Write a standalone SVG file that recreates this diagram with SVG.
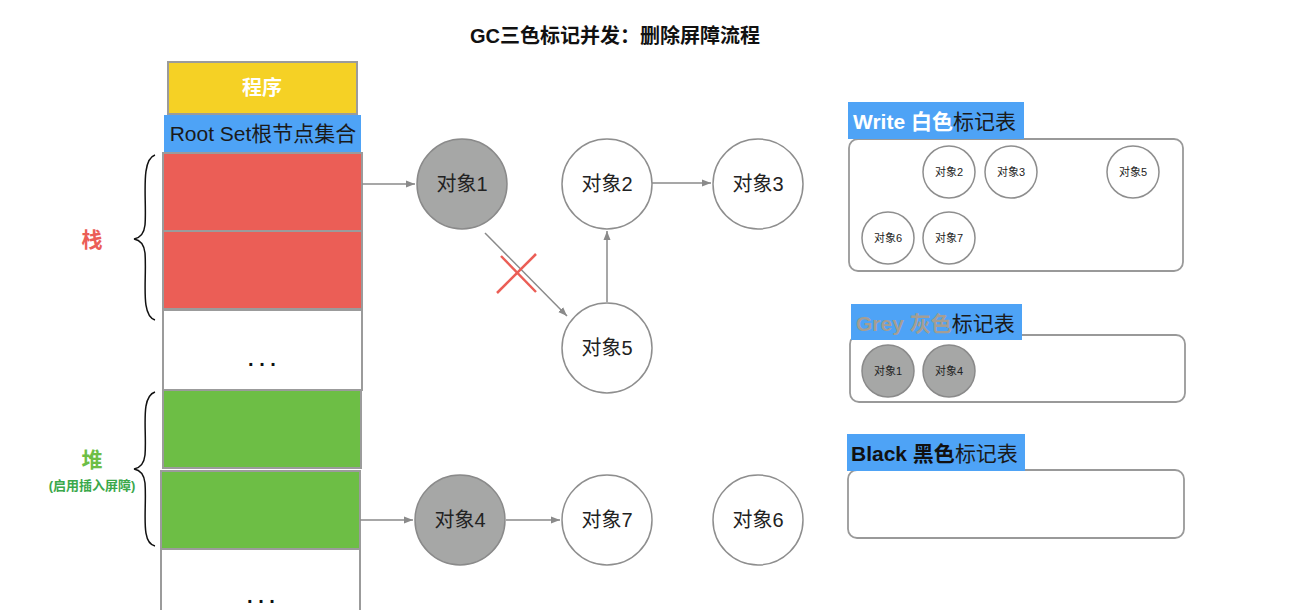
<svg xmlns="http://www.w3.org/2000/svg" width="1295" height="610" viewBox="0 0 1295 610">
<defs>
<marker id="ah" markerWidth="10" markerHeight="8" refX="9" refY="4" orient="auto" markerUnits="userSpaceOnUse">
<path d="M0,0.5 L9,4 L0,7.5 Z" fill="#8a8a8a"/>
</marker>
<style>
text{font-family:"Liberation Sans","Noto Sans CJK SC",sans-serif;}
.blk{stroke:#9b9b9b;stroke-width:2;}
.node{fill:#fff;stroke:#8e8e8e;stroke-width:1.5;}
.gnode{fill:#a6a7a6;stroke:#8a8a8a;stroke-width:1.5;}
.nt{font-size:20px;fill:#222;text-anchor:middle;}
.sn{fill:#fff;stroke:#8e8e8e;stroke-width:1.5;}
.sg{fill:#a6a7a6;stroke:#8a8a8a;stroke-width:1.5;}
.st{font-size:11px;fill:#222;text-anchor:middle;}
.edge{stroke:#8a8a8a;stroke-width:1.5;fill:none;marker-end:url(#ah);}
.panel{fill:#fff;stroke:#999;stroke-width:1.8;}
.lab{fill:#4ea3f6;}
.lt{font-size:21px;}
.brace{fill:none;stroke:#111;stroke-width:1.5;}
.dots{font-size:20px;font-weight:bold;fill:#111;text-anchor:middle;}
</style>
</defs>
<rect width="1295" height="610" fill="#fff"/>
<text x="615" y="43" font-size="20" font-weight="bold" text-anchor="middle" fill="#111">GC三色标记并发：删除屏障流程</text>

<g id="stack-left">
<rect x="168" y="62" width="189" height="52" fill="#f5d125" class="blk"/>
<text x="262" y="95" font-size="20" font-weight="bold" fill="#fff" text-anchor="middle">程序</text>
<rect x="164" y="115" width="197" height="37" fill="#4ea3f6"/>
<text x="263" y="141" font-size="21" fill="#1a1a1a" text-anchor="middle">Root Set根节点集合</text>
<rect x="163" y="153" width="199" height="78" fill="#eb5e56" class="blk"/>
<rect x="163" y="231" width="199" height="78" fill="#eb5e56" class="blk"/>
<rect x="163" y="310" width="199" height="80" fill="#fff" class="blk"/>
<text class="dots" x="262" y="366">. . .</text>
<rect x="163" y="390" width="198" height="78" fill="#6dbe45" class="blk"/>
<rect x="161" y="471" width="199" height="78" fill="#6dbe45" class="blk"/>
<rect x="161" y="549" width="199" height="70" fill="#fff" class="blk"/>
<text class="dots" x="261" y="603">. . .</text>
</g>

<g id="brace-stack">
<path class="brace" d="M155,155 C140,160 147,200 145,225 C144,234 140,238 134,239 C140,240 144,244 145,253 C147,280 140,315 155,320"/>
<text x="92" y="247" font-size="21" font-weight="bold" fill="#eb5e56" text-anchor="middle">栈</text>
</g>
<g id="brace-heap">
<path class="brace" d="M155,392 C140,397 147,430 145,455 C144,464 140,468 134,469 C140,470 144,474 145,483 C147,510 140,543 155,546"/>
<text x="92" y="467" font-size="21" font-weight="bold" fill="#6dbe45" text-anchor="middle">堆</text>
<text x="92" y="490" font-size="13" font-weight="bold" fill="#3aa84a" text-anchor="middle">(启用插入屏障)</text>
</g>

<g id="connectors">
<line class="edge" x1="362" y1="184" x2="415" y2="184"/>
<line class="edge" x1="652" y1="183" x2="711" y2="183"/>
<line class="edge" x1="607" y1="302" x2="607" y2="231"/>
<line class="edge" x1="485" y1="233" x2="567" y2="316"/>
<line class="edge" x1="360" y1="520" x2="413" y2="520"/>
<line class="edge" x1="506" y1="520" x2="560" y2="520"/>
</g>
<g id="cross">
<line x1="497" y1="293" x2="536" y2="254" stroke="#eb5e56" stroke-width="2.5"/>
<line x1="501" y1="256" x2="536" y2="292" stroke="#eb5e56" stroke-width="2.5"/>
</g>

<g id="obj1"><circle class="gnode" cx="462" cy="184" r="45"/><text class="nt" x="462" y="191">对象1</text></g>
<g id="obj2"><circle class="node" cx="607" cy="184" r="45"/><text class="nt" x="607" y="191">对象2</text></g>
<g id="obj3"><circle class="node" cx="758" cy="184" r="45"/><text class="nt" x="758" y="191">对象3</text></g>
<g id="obj5"><circle class="node" cx="607" cy="348" r="45"/><text class="nt" x="607" y="355">对象5</text></g>
<g id="obj4"><circle class="gnode" cx="460" cy="520" r="45"/><text class="nt" x="460" y="527">对象4</text></g>
<g id="obj7"><circle class="node" cx="607" cy="520" r="45"/><text class="nt" x="607" y="527">对象7</text></g>
<g id="obj6"><circle class="node" cx="758" cy="520" r="45"/><text class="nt" x="758" y="527">对象6</text></g>

<g id="white-table">
<rect class="panel" x="849" y="139" width="334" height="132" rx="9"/>
<rect class="lab" x="848" y="102" width="176" height="37"/>
<text x="853" y="129" class="lt"><tspan font-weight="bold" fill="#fff">Write 白色</tspan><tspan fill="#1a1a1a">标记表</tspan></text>
<circle class="sn" cx="949" cy="172" r="26"/><text class="st" x="949" y="176">对象2</text>
<circle class="sn" cx="1011" cy="172" r="26"/><text class="st" x="1011" y="176">对象3</text>
<circle class="sn" cx="1133" cy="172" r="26"/><text class="st" x="1133" y="176">对象5</text>
<circle class="sn" cx="888" cy="238" r="26"/><text class="st" x="888" y="242">对象6</text>
<circle class="sn" cx="949" cy="238" r="26"/><text class="st" x="949" y="242">对象7</text>
</g>

<g id="grey-table">
<rect class="panel" x="850" y="335" width="335" height="67" rx="9"/>
<rect class="lab" x="851" y="304" width="171" height="36"/>
<text x="856" y="331" class="lt"><tspan font-weight="bold" fill="#a59e93">Grey 灰色</tspan><tspan fill="#1a1a1a">标记表</tspan></text>
<circle class="sg" cx="888" cy="371" r="26"/><text class="st" x="888" y="375">对象1</text>
<circle class="sg" cx="949" cy="371" r="26"/><text class="st" x="949" y="375">对象4</text>
</g>

<g id="black-table">
<rect class="panel" x="848" y="470" width="336" height="68" rx="9"/>
<rect class="lab" x="847" y="434" width="178" height="37"/>
<text x="851" y="461" class="lt"><tspan font-weight="bold" fill="#111">Black 黑色</tspan><tspan fill="#1a1a1a">标记表</tspan></text>
</g>
</svg>
